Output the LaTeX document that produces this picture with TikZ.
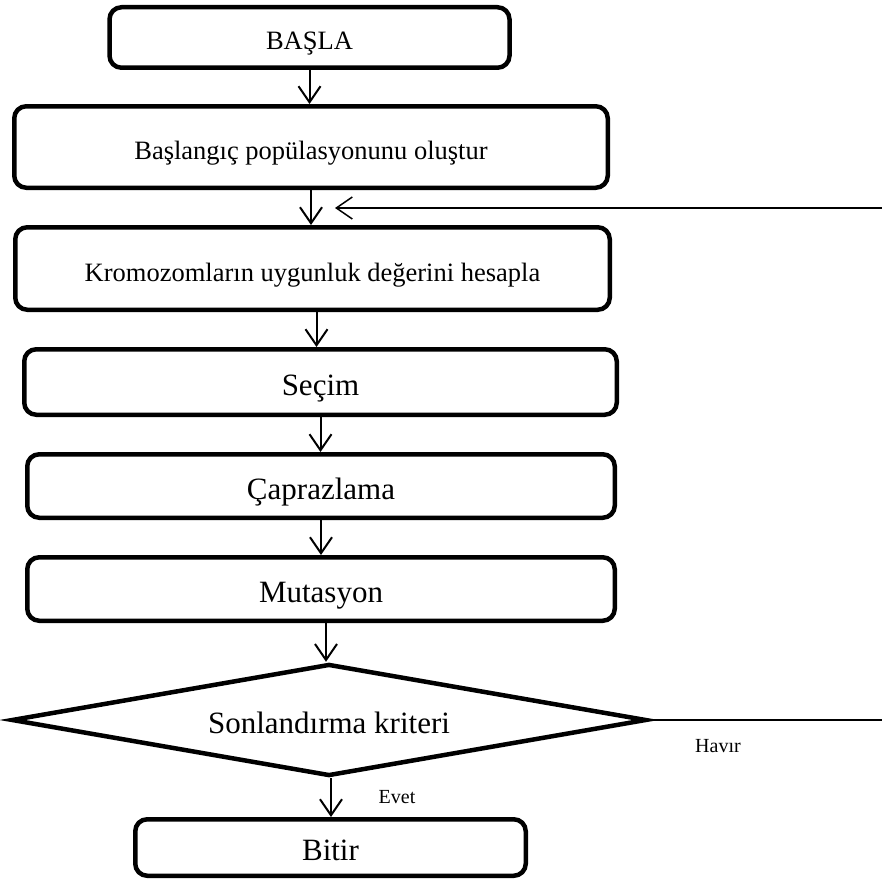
\documentclass[tikz,border=0pt]{standalone}
\usepackage{fontspec}
\setmainfont{Liberation Serif}
\usetikzlibrary{arrows.meta,shapes.geometric}
\tikzset{
  procbox/.style={draw, line width=4.5pt, rounded corners=12pt, inner sep=0pt, align=center, text depth=0pt},
  smalltext/.style={font=\fontsize{26.5}{30}\selectfont, text height=25pt},
  bigtext/.style={font=\fontsize{31}{35}\selectfont, text height=26pt},
  labeltext/.style={font=\fontsize{20}{24}\selectfont},
  arr/.style={-{Straight Barb[length=16pt,width=22pt]}, line width=2pt},
  thinline/.style={line width=1.4pt},
  decision/.style={diamond, draw, line width=4.5pt, inner sep=0pt, aspect=5.5, miter limit=10, text depth=0pt}
}
\begin{document}
\begin{tikzpicture}[x=1pt,y=-1pt]
\useasboundingbox (0,0) rectangle (882,883);
\node[procbox, smalltext, minimum width=400pt, minimum height=60.5pt] (basla) at (309.5,37.5) {BAŞLA};
\node[procbox, smalltext, minimum width=593.5pt, minimum height=81.5pt] (pop) at (311,147) {Başlangıç popülasyonunu oluştur};
\node[procbox, smalltext, minimum width=594.5pt, minimum height=82.5pt] (uyg) at (312.5,268.5) {Kromozomların uygunluk değerini hesapla};
\node[procbox, bigtext, minimum width=592.5pt, minimum height=65.5pt] (secim) at (320.5,382) {Seçim};
\node[procbox, bigtext, minimum width=587.5pt, minimum height=63.5pt] (capr) at (321,486) {Çaprazlama};
\node[procbox, bigtext, minimum width=587.5pt, minimum height=63.5pt] (mut) at (321,589) {Mutasyon};
\node[decision, bigtext, minimum width=635pt, minimum height=112pt] (krit) at (329,720) {Sonlandırma kriteri};
\node[procbox, bigtext, minimum width=390.5pt, minimum height=56.5pt] (bitir) at (330.5,847.5) {Bitir};

\coordinate (fbin) at (882,208);
\coordinate (fbtip) at (335,208);
\coordinate (havend) at (882,720);

\draw[arr] (basla.south) -- (basla.south |- pop.north);
\draw[arr] (pop.south) -- (pop.south |- uyg.north);
\draw[arr] ([xshift=4pt]uyg.south) -- ([xshift=4pt]uyg.south |- secim.north);
\draw[arr] (secim.south) -- (secim.south |- capr.north);
\draw[arr] (capr.south) -- (capr.south |- mut.north);
\draw[arr] ([xshift=5pt]mut.south) -- ([xshift=5pt]mut.south |- krit.north);
\draw[arr] ([xshift=2pt]krit.south) -- ([xshift=2pt]krit.south |- bitir.north);

\draw[arr, line width=1.5pt] (fbin) -- (fbtip);
\draw[thinline] (krit.east) -- (havend);

\node[labeltext] (havir) at (718,746) {Havır};
\node[labeltext] (evet) at (397,797) {Evet};
\end{tikzpicture}
\end{document}
